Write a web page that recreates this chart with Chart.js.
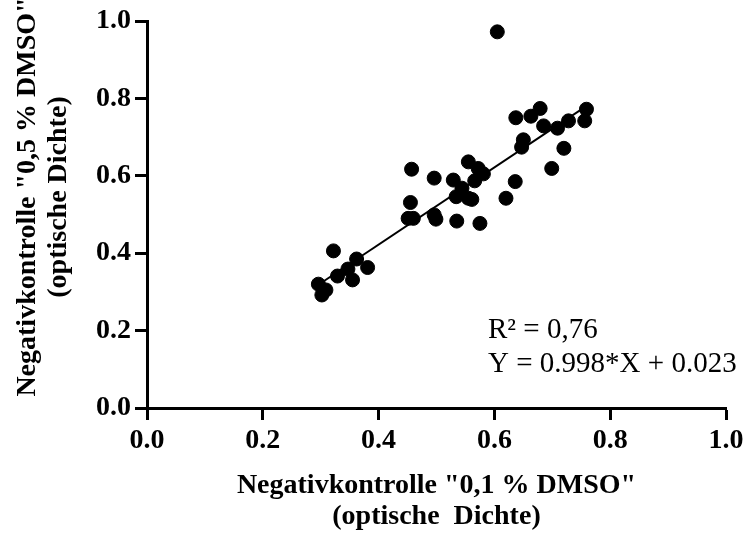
<!DOCTYPE html>
<html>
<head>
<meta charset="utf-8">
<script src="https://cdn.jsdelivr.net/npm/chart.js@4.4.1/dist/chart.umd.min.js"></script>
<style>
  html, body { margin: 0; padding: 0; background: #fff; }
  #wrap { width: 743px; height: 538px; }
</style>
</head>
<body>
<div id="wrap"><canvas id="scatterChart"></canvas></div>
<script>
// measured values (optical density)
const xValues = [0.322, 0.362, 0.381, 0.347, 0.329, 0.355, 0.296, 0.309, 0.302,
    0.457, 0.555, 0.572, 0.581, 0.496, 0.529, 0.566, 0.636, 0.544, 0.534,
    0.555, 0.561, 0.620, 0.455, 0.451, 0.460, 0.496, 0.499, 0.535, 0.575,
    0.637, 0.663, 0.679, 0.685, 0.709, 0.728, 0.759, 0.756, 0.650, 0.647,
    0.720, 0.699, 0.605];
const yValues = [0.406, 0.385, 0.363, 0.359, 0.341, 0.331, 0.320, 0.305, 0.292,
    0.617, 0.636, 0.619, 0.605, 0.594, 0.589, 0.587, 0.585, 0.568, 0.546,
    0.542, 0.539, 0.542, 0.531, 0.490, 0.490, 0.499, 0.488, 0.483, 0.477,
    0.750, 0.754, 0.774, 0.729, 0.723, 0.742, 0.772, 0.742, 0.693, 0.674,
    0.671, 0.619, 0.972];

// linear fit from the figure
const slope = 0.998;
const intercept = 0.023;
const fitRange = [0.296, 0.760];

const tickValues = [0, 0.2, 0.4, 0.6, 0.8, 1.0];
const statsLines = ['R\u00B2 = 0,76', 'Y = 0.998*X + 0.023'];
const yTitleLines = ['Negativkontrolle "0,5 % DMSO"', '(optische Dichte)'];
const xTitleLines = ['Negativkontrolle "0,1 % DMSO"', '(optische  Dichte)'];

const points = xValues.map((x, i) => ({ x: x, y: yValues[i] }));
const fitLine = fitRange.map(x => ({ x: x, y: slope * x + intercept }));

const serif = '"Liberation Serif", "Times New Roman", serif';

// R² / equation text inside the plot, plus the rotated y title
const extraText = {
    id: 'extraText',
    afterDraw(chart) {
        const ctx = chart.ctx;
        const xs = chart.scales.x, ys = chart.scales.y;
        ctx.save();
        ctx.fillStyle = '#000';
        ctx.font = '29px ' + serif;
        ctx.textBaseline = 'alphabetic';
        ctx.textAlign = 'left';
        ctx.fillText(statsLines[0], xs.getPixelForValue(0.589), ys.getPixelForValue(0.181));
        ctx.fillText(statsLines[1], xs.getPixelForValue(0.589), ys.getPixelForValue(0.093));
        ctx.restore();

        ctx.save();
        ctx.fillStyle = '#000';
        ctx.font = 'bold 28px ' + serif;
        ctx.textAlign = 'center';
        ctx.textBaseline = 'middle';
        ctx.translate(28, 197);
        ctx.rotate(-Math.PI / 2);
        yTitleLines.forEach((line, i) => ctx.fillText(line, 0, i * 30.5));
        ctx.restore();
    }
};

const tickFont = { family: serif, size: 28, weight: 'bold' };
const titleFont = { family: serif, size: 28, weight: 'bold', lineHeight: 1.1 };

function axisOpts() {
    return {
        type: 'linear',
        min: 0,
        max: 1,
        afterBuildTicks: axis => { axis.ticks = tickValues.map(v => ({ value: v })); },
        ticks: {
            color: '#000',
            font: tickFont,
            padding: 4,
            callback: v => v.toFixed(1)
        },
        grid: {
            display: true,
            drawOnChartArea: false,
            drawTicks: true,
            tickLength: 12,
            tickWidth: 3,
            tickColor: '#000'
        },
        border: { display: true, color: '#000', width: 3 }
    };
}

const xOpts = axisOpts();
xOpts.title = { display: true, text: xTitleLines, color: '#000', font: titleFont, padding: 0 };
xOpts.afterFit = scale => {
    scale.height = 538 - 408 - 6;
    scale.paddingRight = 0;
    scale.paddingLeft = 0;
};
const yOpts = axisOpts();
yOpts.afterFit = scale => { scale.width = 147 - 12; };

new Chart(document.getElementById('scatterChart'), {
    type: 'scatter',
    data: {
        datasets: [{
            label: 'Werte',
            data: points,
            backgroundColor: '#000',
            borderColor: '#000',
            pointRadius: 7,
            pointHoverRadius: 7
        }, {
            label: 'Regression',
            data: fitLine,
            showLine: true,
            borderColor: '#000',
            borderWidth: 2,
            pointRadius: 0,
            fill: false
        }]
    },
    options: {
        responsive: true,
        maintainAspectRatio: false,
        animation: false,
        layout: { padding: { left: 12, right: 17, top: 21, bottom: 6 } },
        plugins: {
            legend: { display: false },
            tooltip: { enabled: false }
        },
        scales: { x: xOpts, y: yOpts }
    },
    plugins: [extraText]
});
</script>
</body>
</html>
